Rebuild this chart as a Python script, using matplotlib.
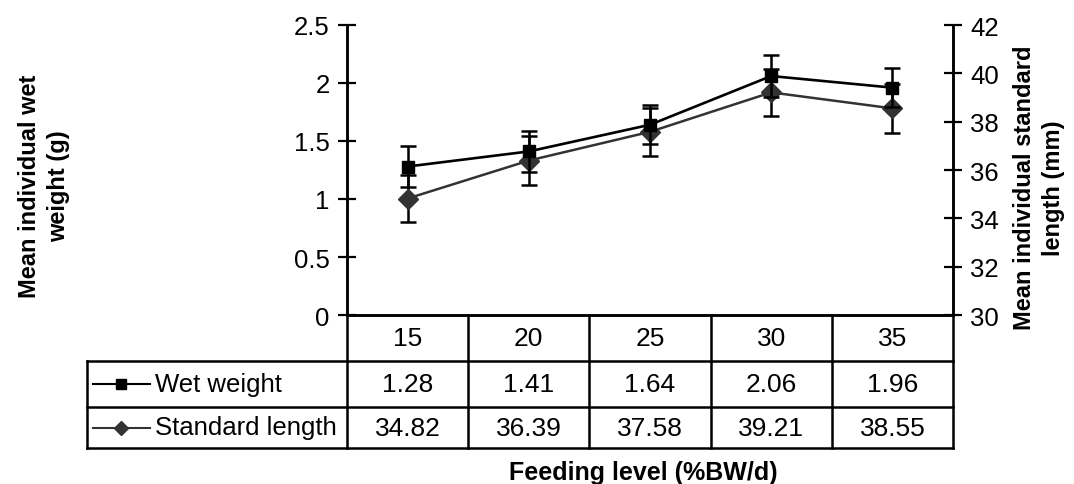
import matplotlib
matplotlib.use("Agg")
import matplotlib.pyplot as plt
from matplotlib import ticker

plt.rcParams["font.family"] = ["Liberation Sans", "DejaVu Sans"]

feeding_levels = ["15", "20", "25", "30", "35"]
wet_weight = [1.28, 1.41, 1.64, 2.06, 1.96]
wet_weight_err = [0.18, 0.18, 0.17, 0.18, 0.17]
standard_length = [34.82, 36.39, 37.58, 39.21, 38.55]
standard_length_err = [0.97, 1.02, 0.99, 0.98, 1.00]
series_names = ["Wet weight", "Standard length"]

W_PX, H_PX = 1074, 485
SL_COLOR = "#333333"


def fx(px):
    return px / W_PX


def fy(px):
    return 1 - px / H_PX


fig = plt.figure(figsize=(W_PX / 100, H_PX / 100), dpi=100)

# Plot area, in pixel edges of the reference
left_px, right_px, top_px, bottom_px = 347, 953, 26, 316
ax = fig.add_axes([fx(left_px), fy(bottom_px), fx(right_px - left_px), (bottom_px - top_px) / H_PX])
ax2 = ax.twinx()
ax.set_zorder(ax2.get_zorder() + 1)
ax.patch.set_visible(False)

xs = list(range(1, len(feeding_levels) + 1))

ax2.errorbar(xs, standard_length, yerr=standard_length_err, color=SL_COLOR, ecolor="black",
             elinewidth=1.8, capsize=6, capthick=1.8, linewidth=1.8, marker="D", markersize=10,
             markerfacecolor=SL_COLOR, markeredgecolor=SL_COLOR)
ax.errorbar(xs, wet_weight, yerr=wet_weight_err, color="black", ecolor="black",
            elinewidth=1.8, capsize=6, capthick=1.8, linewidth=1.9, marker="s", markersize=8)

ax.set_xlim(0.5, len(feeding_levels) + 0.5)
ax.set_ylim(0, 2.5)
ax2.set_ylim(30, 42)
ax.yaxis.set_major_locator(ticker.MultipleLocator(0.5))
ax2.yaxis.set_major_locator(ticker.MultipleLocator(2))
ax.yaxis.set_major_formatter(ticker.FormatStrFormatter("%g"))
ax.set_xticks([])
ax2.set_xticks([])

for a in (ax, ax2):
    a.spines["top"].set_visible(False)
    for s in a.spines.values():
        s.set_linewidth(1.8)
    a.tick_params(axis="y", direction="inout", length=13, width=1.6, labelsize=18.5, pad=6)

# Data table under the plot
row_edges_px = [316, 362, 408, 449]
table_left_px = 87
tax = fig.add_axes([fx(left_px), fy(row_edges_px[-1]), fx(right_px - left_px),
                    (row_edges_px[-1] - row_edges_px[0]) / H_PX])
tax.set_xlim(ax.get_xlim())
tax.set_ylim(row_edges_px[-1], row_edges_px[0])
tax.axis("off")
col_w_px = (right_px - left_px) / len(feeding_levels)


def tx(px):
    return 0.5 + (px - left_px) / col_w_px


line_kw = dict(color="black", linewidth=1.8, clip_on=False)
for i in range(len(feeding_levels) + 1):
    tax.plot([0.5 + i, 0.5 + i], [row_edges_px[0], row_edges_px[-1]], **line_kw)
for y in row_edges_px[1:]:
    tax.plot([tx(table_left_px), len(feeding_levels) + 0.5], [y, y], **line_kw)
tax.plot([tx(table_left_px)] * 2, [row_edges_px[1], row_edges_px[-1]], **line_kw)

rows = [feeding_levels,
        [f"{v:.2f}" for v in wet_weight],
        [f"{v:.2f}" for v in standard_length]]
for r, row in enumerate(rows):
    yc = (row_edges_px[r] + row_edges_px[r + 1]) / 2
    for c, txt in enumerate(row):
        tax.text(xs[c], yc, txt, ha="center", va="center", fontsize=19)

# Legend keys in the row labels
keys = [("s", "black", 6.5, 1.5), ("D", SL_COLOR, 7.5, 1.5)]
for r, (name, (mk, col, ms, lw)) in enumerate(zip(series_names, keys), start=1):
    yc = (row_edges_px[r] + row_edges_px[r + 1]) / 2
    tax.plot([tx(93), tx(150)], [yc, yc], color=col, linewidth=lw, clip_on=False)
    tax.plot([tx(121)], [yc], marker=mk, color=col, markersize=ms, clip_on=False)
    tax.text(tx(155), yc, name, ha="left", va="center", fontsize=18.5)

fig.text(fx(44), fy(186), "Mean individual wet\nweight (g)", rotation=90, ha="center",
         va="center", multialignment="center", fontsize=17, fontweight="bold", linespacing=1.35)
fig.text(fx(1039), fy(188), "Mean individual standard\nlength (mm)", rotation=90, ha="center",
         va="center", multialignment="center", fontsize=17, fontweight="bold", linespacing=1.35)
fig.text(fx(643), fy(473), "Feeding level (%BW/d)", ha="center", va="center",
         fontsize=18, fontweight="bold")

fig.savefig("out.png", dpi=100)
